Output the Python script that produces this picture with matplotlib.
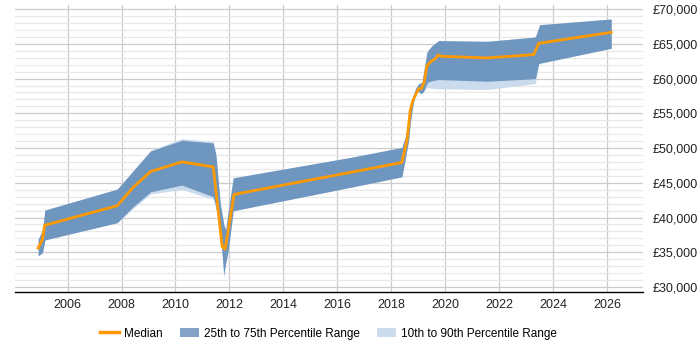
import matplotlib
matplotlib.use('Agg')
import matplotlib.pyplot as plt
from matplotlib.patches import Patch
from matplotlib.lines import Line2D
from matplotlib.ticker import FuncFormatter, MultipleLocator

plt.rcParams['font.family'] = ['Liberation Sans', 'DejaVu Sans']

# Median salary
med_x = [2004.91, 2005.07, 2005.15, 2007.84, 2008.43, 2009.08, 2010.24, 2011.40,
         2011.73, 2011.84, 2012.17, 2016.47, 2018.39, 2018.58, 2018.70, 2018.80,
         2018.95, 2019.01, 2019.11, 2019.22, 2019.32, 2019.51, 2019.63, 2019.73,
         2019.88, 2021.55, 2023.28, 2023.46, 2026.15]
med_y = [35600, 36880, 38890, 41700, 44340, 46630, 48010, 47290,
         35820, 35450, 43330, 46490, 47920, 51120, 55420, 56850,
         58040, 58530, 58530, 59480, 61870, 62590, 62830, 63400,
         63200, 62970, 63450, 65070, 66650]

# Percentile bands (shared x)
band_x = [2004.91, 2005.07, 2005.16, 2007.84, 2008.43, 2009.08, 2010.24, 2011.40,
          2011.50, 2011.66, 2011.79, 2011.86, 2011.94, 2012.14, 2016.47, 2018.39,
          2018.52, 2018.64, 2018.70, 2018.77, 2018.89, 2019.01, 2019.08, 2019.14,
          2019.18, 2019.32, 2019.35, 2019.51, 2019.75, 2021.55, 2023.28, 2023.34,
          2023.46, 2023.50, 2026.15]
p75 = [36880, 38210, 41080, 44090, 46700, 49580, 51120, 50730,
       48970, 42000, 39000, 38210, 40500, 45710, 48640, 50080,
       51590, 54000, 55890, 57000, 58530, 59250, 59350, 59480,
       60500, 63780, 64000, 64740, 65460, 65360, 65950, 66030,
       67300, 67750, 68570]
p25 = [34490, 34960, 36780, 39260, 41560, 43710, 44670, 42990,
       41500, 38210, 31760, 33500, 34870, 40980, 44340, 45860,
       48500, 51120, 53500, 55420, 58040, 58200, 57810, 57950,
       58040, 59300, 59480, 59700, 59860, 59620, 59960, 60000,
       62110, 62200, 64360]
p90 = [36880, 38210, 41080, 44090, 46800, 49700, 51360, 50900,
       48970, 42000, 39000, 38210, 40500, 45710, 48640, 50080,
       51590, 54000, 55890, 57000, 58530, 59250, 59350, 59480,
       60500, 63780, 64000, 64740, 65460, 65360, 65950, 66030,
       67300, 67750, 68570]
p10 = [34490, 34960, 36780, 39260, 41300, 43400, 44050, 42620,
       41300, 38000, 31290, 33300, 34870, 40980, 44340, 45860,
       48500, 51120, 53500, 55420, 58040, 58200, 57810, 57950,
       58040, 58700, 58670, 58600, 58530, 58430, 59250, 59300,
       62110, 62200, 64360]

year_ticks = list(range(2006, 2027, 2))

fig = plt.figure(figsize=(7, 3.5), dpi=100)
ax = fig.add_axes([0.021, 0.166, 0.898, 0.82])

ax.fill_between(band_x, p10, p90, color='#c9dbed', lw=0, zorder=2)
ax.fill_between(band_x, p25, p75, color='#6f96bf', lw=0, zorder=3)
ax.plot(med_x, med_y, color='#ff9900', lw=2, zorder=4)

ax.set_xlim(2004.04, 2027.34)
ax.set_ylim(29300, 70600)
ax.set_xticks(year_ticks)
ax.yaxis.set_major_locator(MultipleLocator(5000))
ax.yaxis.set_minor_locator(MultipleLocator(1000))
ax.yaxis.tick_right()
ax.yaxis.set_major_formatter(FuncFormatter(lambda v, p: '£{:,.0f}'.format(v)))
ax.tick_params(axis='both', which='both', length=0, labelsize=9, colors='#222222')
ax.tick_params(axis='y', pad=7)
ax.tick_params(axis='x', pad=5)

ax.grid(axis='y', which='major', color='#cccccc', lw=0.9, zorder=0)
ax.grid(axis='y', which='minor', color='#e8e8e8', lw=0.9, zorder=0)
ax.grid(axis='x', which='major', color='#cccccc', lw=0.9, zorder=0)
ax.set_axisbelow(True)
for s in ['left', 'right', 'top']:
    ax.spines[s].set_visible(False)
ax.spines['bottom'].set_color('#000000')
ax.spines['bottom'].set_linewidth(1)

handles = [Line2D([], [], color='#ff9900', lw=2.5),
           Patch(facecolor='#85a3c6', edgecolor='none'),
           Patch(facecolor='#ccdcec', edgecolor='none')]
labels = ['Median', '25th to 75th Percentile Range', '10th to 90th Percentile Range']
fig.legend(handles, labels, loc='center', bbox_to_anchor=(0.469, 0.047), ncol=3,
           frameon=False, fontsize=8.5, handlelength=1.6, handletextpad=0.4,
           columnspacing=1.5)

fig.savefig('out.png', dpi=100)
